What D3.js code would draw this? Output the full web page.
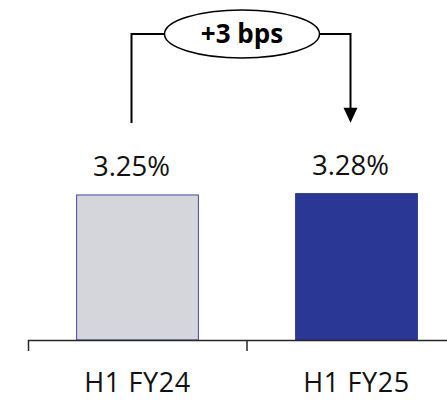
<!DOCTYPE html>
<html>
<head>
<meta charset="utf-8">
<script src="https://cdn.jsdelivr.net/npm/d3@7"></script>
<style>
  html, body { margin: 0; padding: 0; background: #ffffff; }
  svg { display: block; }
  text { font-family: "Open Sans", "Noto Sans", sans-serif; }
</style>
</head>
<body>
<svg id="chart" width="447" height="400"></svg>
<script>
// Half-year yield comparison
const categories = ["H1 FY24", "H1 FY25"];
const values = [3.25, 3.28];
const valueLabels = ["3.25%", "3.28%"];
const changeLabel = "+3 bps";

const W = 447, H = 400;
const baseY = 340;

const svg = d3.select("#chart");

const x = d3.scaleBand()
  .domain(categories)
  .range([28, 466])
  .padding(0);

const y = d3.scaleLinear()
  .domain([0, 4])
  .range([baseY, baseY - 178.5]);

const barW = x.bandwidth() * 0.556;
const cx = d => x(d) + x.bandwidth() / 2;
const anchorX = d => cx(d) - 6;

const fills = ["#d5d6db", "#2a3794"];
const strokes = ["#3d48a6", "#2a3794"];

// bars
svg.append("g")
  .selectAll("rect")
  .data(categories)
  .join("rect")
  .attr("x", d => cx(d) - barW / 2)
  .attr("y", (d, i) => y(values[i]))
  .attr("width", barW)
  .attr("height", (d, i) => baseY - y(values[i]))
  .attr("fill", (d, i) => fills[i])
  .attr("stroke", (d, i) => strokes[i])
  .attr("stroke-width", 1);

// value labels
svg.append("g")
  .selectAll("text")
  .data(categories)
  .join("text")
  .attr("x", d => anchorX(d))
  .attr("y", (d, i) => y(values[i]) - 19)
  .attr("text-anchor", "middle")
  .attr("font-size", 27.5)
  .attr("fill", "#111")
  .text((d, i) => valueLabels[i]);

// category axis
const axis = d3.axisBottom(x)
  .tickSizeInner(0)
  .tickSizeOuter(11)
  .tickPadding(33);

const gAxis = svg.append("g")
  .attr("transform", `translate(0,${baseY})`)
  .call(axis);

gAxis.select(".domain")
  .attr("stroke", "#262626")
  .attr("stroke-width", 1.5);

gAxis.selectAll(".tick text")
  .attr("font-family", "'Open Sans', sans-serif")
  .attr("font-size", 27)
  .attr("letter-spacing", 0.6)
  .attr("fill", "#111");

// boundary ticks between categories
gAxis.selectAll(".sep")
  .data(categories.slice(1))
  .join("line")
  .attr("class", "sep")
  .attr("x1", d => x(d))
  .attr("x2", d => x(d))
  .attr("y1", 0)
  .attr("y2", 11)
  .attr("stroke", "#262626")
  .attr("stroke-width", 1.5);

// change bracket
const x0 = anchorX(categories[0]);
const x1 = anchorX(categories[1]);
const topY = 34;
const leftBottom = y(values[0]) - 72;
const rightTip = y(values[1]) - 71;
const ellCx = (x0 + x1) / 2 + 1;
const ellRx = 77.5, ellRy = 24;

const bracket = svg.append("g")
  .attr("fill", "none")
  .attr("stroke", "#000")
  .attr("stroke-width", 2);

bracket.append("path")
  .attr("d", `M${x0},${leftBottom} V${topY} H${ellCx - ellRx}`);

bracket.append("path")
  .attr("d", `M${ellCx + ellRx},${topY} H${x1} V${rightTip - 12}`);

svg.append("path")
  .attr("d", `M${x1 - 7},${rightTip - 15} L${x1 + 7},${rightTip - 15} L${x1},${rightTip} Z`)
  .attr("fill", "#000");

svg.append("ellipse")
  .attr("cx", ellCx)
  .attr("cy", topY)
  .attr("rx", ellRx)
  .attr("ry", ellRy)
  .attr("fill", "#fff")
  .attr("stroke", "#000")
  .attr("stroke-width", 1.5);

svg.append("text")
  .attr("x", ellCx)
  .attr("y", topY + 9)
  .attr("text-anchor", "middle")
  .attr("font-size", 26)
  .attr("font-weight", "bold")
  .attr("fill", "#000")
  .text(changeLabel);
</script>
</body>
</html>
